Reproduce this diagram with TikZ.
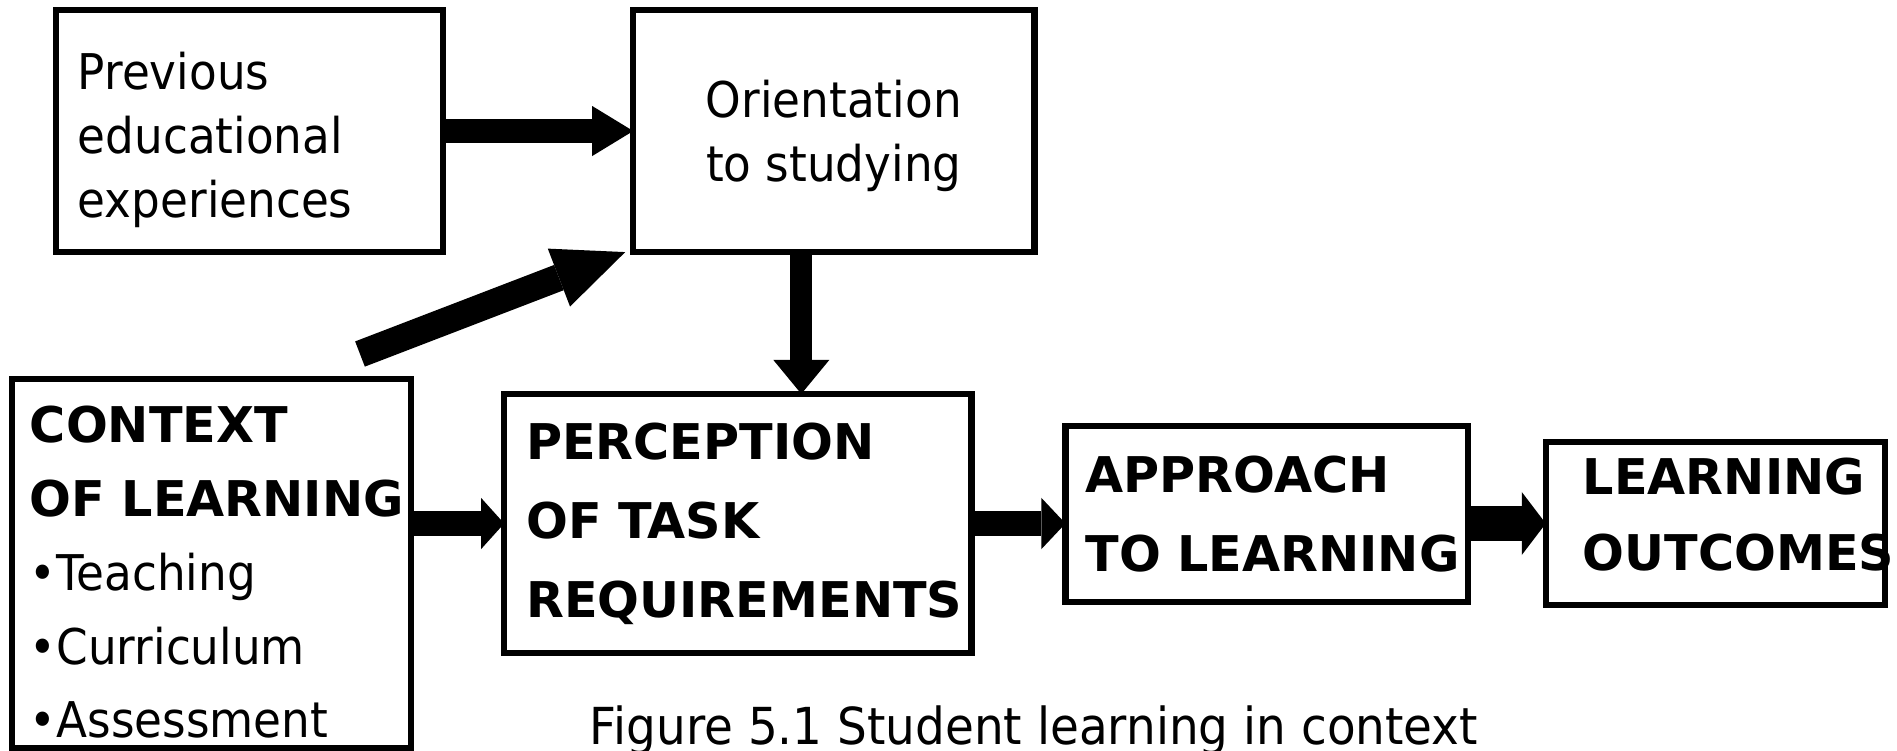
\documentclass[tikz,border=0pt]{standalone}
\usepackage{fontspec}
\setmainfont{DejaVu Sans}[FakeStretch = 0.92, BoldFeatures = {FakeStretch = 1}]
\usetikzlibrary{arrows.meta,positioning}

\begin{document}
\begin{tikzpicture}[x = 0.01cm, y = -0.01cm,
						box/.style = {rectangle, draw, line width = 1.8pt, inner ysep = 0pt, outer sep = 0pt, align = left},
						plain/.style = {font = \fontsize{14}{18.2}\selectfont},
						caps/.style = {font = \fontsize{14}{22.5}\selectfont\bfseries},
						fat/.style args = {#1/#2/#3}{line width = #1, -{Triangle[length = #2, width = #3, line width = 0pt]}}]
		\useasboundingbox (0,0) rectangle (1897,750);
		% Top row
		\node (prev) at (249.5,131) [box, plain, text depth = 34.5pt, minimum height = 2.42cm, text width = 3.43cm, inner xsep = 0.22cm] {Previous\\educational\\experiences};
		\node (orient) [box, plain, text depth = -2.4pt, align = center, minimum width = 4.01cm, minimum height = 2.42cm, right = 1.9cm of prev] {Orientation\\to studying};
		% Bottom row
		\node (ctx) at (211.5,563.5) [box, font = \fontsize{14}{21}\selectfont, text depth = 79.2pt, minimum height = 3.69cm, text width = 3.63cm, inner xsep = 0.18cm] {\textbf{CONTEXT}\\\mbox{\textbf{OF LEARNING}}\\\textbullet Teaching\\\textbullet Curriculum\\\textbullet Assessment};
		\node (perc) [box, caps, minimum height = 2.59cm, text width = 4.23cm, inner xsep = 0.22cm, right = 0.93cm of ctx, yshift = 0.4cm] {PERCEPTION\\OF TASK\\\mbox{REQUIREMENTS}};
		\node (appr) [box, caps, minimum height = 1.76cm, text width = 3.62cm, inner xsep = 0.2cm, right = 0.94cm of perc, yshift = 0.095cm] {\mbox{APPROACH}\\\mbox{TO LEARNING}};
		\node (outc) [box, font = \fontsize{14}{21.5}\selectfont\bfseries, text depth = 26.9pt, minimum height = 1.63cm, text width = 2.65cm, inner xsep = 0.37cm, right = 0.78cm of appr, yshift = -0.095cm] {\mbox{LEARNING}\\\mbox{OUTCOMES}};
		\node (caption) at (1034,744) [anchor = base, font = \fontsize{14.5}{18}\selectfont] {Figure 5.1 Student learning in context};
		% Arrows
		\coordinate (tail) at (360,354);
		\coordinate (drop) at ([xshift = -0.325cm]orient.south);
		\draw [fat = 0.24cm/0.41cm/0.5cm] (prev) -- (orient);
		\draw [fat = 0.27cm/0.71cm/0.62cm] (tail) -- ([xshift = -0.08cm]orient.south west);
		\draw [fat = 0.22cm/0.34cm/0.56cm] (drop) -- (drop |- perc.north);
		\draw [fat = 0.24cm/0.23cm/0.51cm] (perc.west -| ctx.east) -- (perc.west);
		\draw [fat = 0.24cm/0.24cm/0.51cm] (perc.east) -- (perc.east -| appr.west);
		\draw [fat = 0.34cm/0.24cm/0.63cm] (outc.west -| appr.east) -- (outc.west);
	\end{tikzpicture}
\end{document}
